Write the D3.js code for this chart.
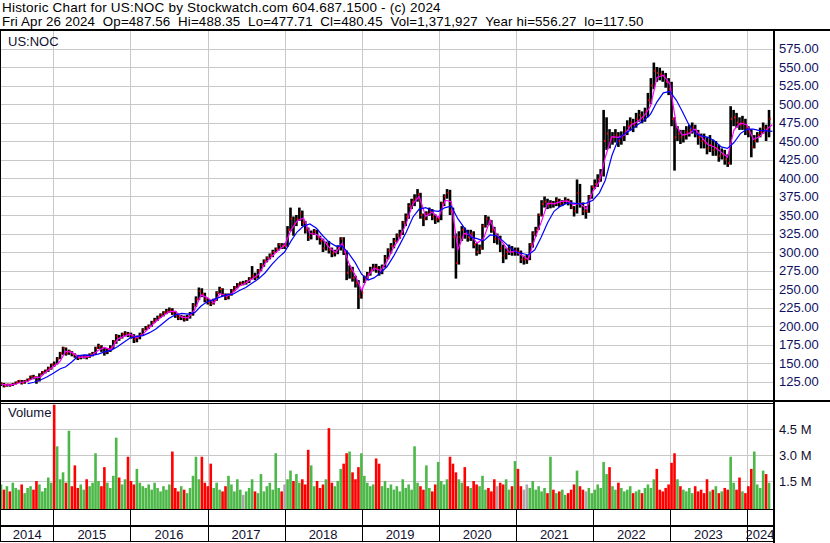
<!DOCTYPE html>
<html>
<head>
<meta charset="utf-8">
<script src="https://cdn.jsdelivr.net/npm/d3@7"></script>
<style>
  body { margin: 0; background: #fff; }
  svg { display: block; font-family: Arial, "Liberation Sans", sans-serif; }
</style>
</head>
<body>
<svg id="chart" width="830" height="543"></svg>
<script>
const header1 = "Historic Chart for US:NOC by Stockwatch.com 604.687.1500 - (c) 2024";
const header2 = "Fri Apr 26 2024  Op=487.56  Hi=488.35  Lo=477.71  Cl=480.45  Vol=1,371,927  Year hi=556.27  lo=117.50";
const symbol = "US:NOC";

const priceTicks = [125, 150, 175, 200, 225, 250, 275, 300, 325, 350, 375, 400, 425, 450, 475, 500, 525, 550, 575];
const volTicks = [1.5, 3.0, 4.5];
const years = [2014, 2015, 2016, 2017, 2018, 2019, 2020, 2021, 2022, 2023, 2024];

// one bar every two weeks, starting Mon Apr 28 2014
const firstBar = new Date(2014, 3, 28);

const closes = [
  122,119,121,120,122,124,126,123,126,128,132,131,126,135,138,140,143,148,
  147,156,163,170,163,166,162,160,157,158,159,158,161,163,170,173,170,165,168,171,179,186,184,189,190,189,
  186,182,184,188,195,198,200,205,208,212,215,218,220,222,218,214,211,212,209,212,216,228,236,247,243,236,
  232,230,235,245,250,242,238,242,248,252,256,258,258,260,264,268,266,275,282,288,292,296,300,304,310,308,
  308,330,345,338,345,352,340,330,320,325,328,320,315,305,310,303,298,300,305,318,300,272,275,265,258,240,245,
  265,270,275,280,278,272,280,292,302,308,315,322,325,340,348,362,368,372,378,350,345,352,356,348,344,345,
  366,375,380,355,320,285,320,330,325,320,325,310,300,305,335,345,340,330,318,318,305,295,300,305,300,302,
  300,290,290,290,310,325,330,350,365,368,365,366,365,370,365,368,370,368,360,355,380,365,355,355,375,388,
  392,398,405,450,460,452,455,458,450,455,462,470,475,472,480,485,482,490,505,525,545,542,540,538,530,520,
  480,455,460,455,458,462,465,468,460,455,450,448,440,445,438,440,430,432,425,420,480,482,475,472,475,468,
  462,442,450,458,462,468,465,480
];
const highs = [
  124,123,122,122,123,125,127,127,127,129,133,134,132,136,139,141,145,149,
  152,158,165,172,171,168,166,163,161,160,161,161,163,165,172,176,174,171,170,174,181,189,188,191,193,192,
  191,189,187,191,197,200,202,207,211,214,217,220,223,225,224,220,216,215,214,215,219,231,240,252,251,245,
  238,235,237,247,253,251,244,244,250,254,258,260,261,262,266,281,272,277,285,290,294,298,303,306,312,312,
  312,335,360,348,350,360,356,342,333,329,331,330,322,318,314,315,306,303,309,320,320,302,282,280,268,262,250,
  268,273,280,284,284,281,283,296,305,312,319,325,330,342,352,366,372,378,385,380,352,355,360,358,351,348,
  368,378,385,384,360,325,328,335,333,330,330,328,312,310,338,350,348,343,334,325,322,310,305,310,308,306,
  306,302,295,296,312,328,334,352,370,375,372,370,369,374,372,370,374,372,370,362,398,392,367,362,377,390,
  398,405,412,492,482,466,462,466,462,463,470,478,482,480,488,492,490,495,515,535,556,550,549,545,542,535,
  530,482,470,465,465,470,472,475,472,465,460,460,455,458,452,450,445,440,438,432,497,492,488,482,484,480,
  470,466,458,462,468,475,472,492
];
const lows = [
  119,117,118,118,119,121,123,121,122,125,127,128,122,125,134,136,138,141,
  145,148,155,161,160,161,159,157,154,155,156,155,157,159,161,169,165,160,162,165,169,176,180,183,186,185,
  183,177,178,182,187,194,196,199,204,207,211,213,216,218,215,211,208,208,206,207,210,214,226,235,239,232,
  229,227,229,234,243,240,235,236,241,247,251,254,255,256,258,263,262,264,274,280,286,290,293,299,302,304,
  304,307,328,322,335,342,335,325,315,317,323,316,310,300,302,298,293,294,297,302,296,262,264,260,252,223,237,
  258,262,268,274,272,268,270,279,290,298,305,313,318,323,335,345,358,362,368,345,335,343,349,343,338,340,
  343,362,372,350,305,264,283,315,318,314,315,305,295,297,303,333,336,326,312,310,300,285,290,296,295,295,
  295,285,283,284,289,306,321,330,348,360,358,359,360,362,361,362,365,363,358,348,352,360,350,345,353,372,
  385,388,395,402,438,440,445,448,442,445,450,458,465,462,468,476,474,476,482,500,520,530,532,530,522,512,
  470,410,450,446,448,452,456,460,455,445,440,440,432,435,430,430,422,425,418,415,418,470,468,465,465,458,
  455,428,440,448,455,460,450,455
];
// millions of shares
const volumes = [
  1.3,1.0,1.2,0.9,1.4,1.1,1.0,1.3,0.8,1.1,1.2,1.0,1.5,1.3,0.9,1.1,1.7,1.4,
  5.9,3.5,1.6,2.0,1.4,4.4,1.2,2.4,1.1,1.3,1.0,1.6,1.2,1.4,3.1,1.5,1.2,2.3,1.4,1.1,1.8,4.0,1.7,1.3,1.6,2.9,
  1.5,1.3,2.2,1.4,1.2,1.1,1.3,1.0,1.4,1.1,0.9,1.2,1.0,1.3,3.2,1.1,0.9,1.2,1.0,0.8,1.1,1.8,2.9,1.6,2.9,1.4,
  1.2,2.5,1.1,1.4,1.0,0.9,1.2,1.8,1.3,0.9,1.6,1.0,0.7,0.9,1.1,1.6,0.9,0.8,1.9,0.9,1.2,1.4,1.0,3.1,1.1,0.9,
  1.3,1.6,2.1,1.5,1.9,1.4,1.6,1.3,3.3,2.4,1.2,1.5,1.1,1.3,1.6,4.55,1.4,1.2,1.5,2.2,2.5,3.1,3.2,2.0,1.6,2.3,3.1,
  1.8,1.4,1.2,1.3,2.8,2.5,1.2,1.5,1.1,1.3,1.0,1.2,0.9,1.6,1.1,1.3,1.0,3.5,1.4,1.2,1.0,2.4,1.1,0.9,1.3,2.6,
  1.5,1.3,1.6,2.9,2.5,2.0,1.6,1.4,2.3,1.2,1.1,1.5,1.3,1.2,1.8,1.0,1.1,0.9,1.6,1.2,1.4,1.3,1.6,1.0,1.2,2.65,
  2.2,1.2,1.0,1.3,1.1,1.5,1.0,1.2,0.9,1.1,0.8,2.9,1.0,0.8,0.9,1.0,0.7,0.8,1.0,1.3,2.1,1.2,1.0,0.9,1.1,0.8,
  1.0,1.3,1.1,2.6,1.9,2.3,1.2,1.0,1.4,1.1,0.9,1.0,1.2,0.8,0.9,1.0,0.8,1.1,1.3,1.1,1.6,2.2,1.0,0.9,1.1,1.3,
  2.55,3.1,1.6,1.2,1.0,0.9,1.1,0.8,1.2,0.9,1.0,0.8,1.6,0.9,1.0,1.2,0.8,0.9,1.1,1.0,2.9,1.4,1.0,1.7,0.9,0.8,
  1.2,2.2,3.2,1.3,1.1,2.1,1.9,1.4
];

// short average (magenta), first of each month from May 2014
const maShortStart = new Date(2014, 4, 1);
const maShort = [
  121,120,121,124,125,130,131,139,
  145,152,166,164,158,158,160,167,171,168,182,186,
  189,184,189,198,206,213,219,220,212,211,222,242,
  238,231,244,240,245,254,258,264,270,285,294,302,
  309,330,342,346,325,324,317,306,299,312,285,269,
  248,268,278,275,287,306,319,339,365,375,348,354,
  346,370,368,303,325,323,312,318,343,324,312,300,
  301,295,290,318,340,366,365,368,369,364,366,358,
  382,395,428,456,455,458,472,476,484,497,536,539,
  527,470,458,460,466,455,445,442,435,428,465,474,
  472,452,456,465,472
];
// long average (blue), first of each month from Sep 2014
const maLongStart = new Date(2014, 8, 1);
const maLong = [
  122,124,127,131,
  136,142,145,152,160,161,160,162,165,167,172,178,
  184,186,187,191,196,203,210,215,217,216,218,227,
  233,236,239,242,243,248,252,258,264,272,283,292,
  300,315,327,335,338,332,322,313,308,308,298,286,
  270,262,265,272,280,294,310,327,347,358,360,356,
  355,360,362,345,333,320,318,315,323,322,315,307,
  300,298,296,303,320,340,355,362,366,366,365,366,
  370,380,397,430,452,460,465,472,478,486,503,515,
  517,505,490,472,460,457,455,450,442,440,448,460,
  466,466,464,464,463
];

const svg = d3.select("#chart");
const plotL = 1, plotR = 773;

const x = d3.scaleTime()
    .domain([new Date(2014, 3, 28), new Date(2024, 3, 29)])
    .range([1, 772]);
const y = d3.scaleLinear().domain([100, 600]).range([400, 30]);
const yv = d3.scaleLinear().domain([0, 6]).range([507, 403]);
const volBase = 509;

const dates = closes.map((c, i) => d3.timeDay.offset(firstBar, 14 * i));
const yearStarts = years.slice(1).map(yr => new Date(yr, 0, 1));

svg.append("rect").attr("width", 830).attr("height", 543).attr("fill", "#fff");

svg.append("defs").append("clipPath").attr("id", "plotClip")
  .append("rect").attr("x", plotL).attr("y", 31).attr("width", plotR - plotL).attr("height", 369);

// grid
const grid = svg.append("g")
    .attr("stroke", "#c8c8c8")
    .attr("shape-rendering", "crispEdges");
grid.selectAll(".hgrid").data(priceTicks).enter()
  .append("line")
    .attr("x1", plotL).attr("x2", plotR)
    .attr("y1", d => Math.round(y(d)) + 0.5)
    .attr("y2", d => Math.round(y(d)) + 0.5);
grid.selectAll(".vgrid").data(volTicks).enter()
  .append("line")
    .attr("x1", plotL).attr("x2", plotR)
    .attr("y1", d => Math.round(yv(d)) + 0.5)
    .attr("y2", d => Math.round(yv(d)) + 0.5);
grid.selectAll(".ygrid").data(yearStarts).enter()
  .append("line")
    .attr("x1", d => Math.round(x(d)) + 0.5).attr("x2", d => Math.round(x(d)) + 0.5)
    .attr("y1", 31).attr("y2", 400);
grid.selectAll(".ygrid2").data(yearStarts).enter()
  .append("line")
    .attr("x1", d => Math.round(x(d)) + 0.5).attr("x2", d => Math.round(x(d)) + 0.5)
    .attr("y1", 404).attr("y2", volBase);

// price bars
const price = svg.append("g").attr("clip-path", "url(#plotClip)");
price.selectAll(".bar").data(closes).enter()
  .append("rect")
    .attr("x", (d, i) => x(dates[i]) - 1.3)
    .attr("width", 2.6)
    .attr("y", (d, i) => y(highs[i]))
    .attr("height", (d, i) => y(lows[i]) - y(highs[i]))
    .attr("fill", "#000");
price.selectAll(".tick").data(closes).enter()
  .append("rect")
    .attr("x", (d, i) => x(dates[i]) + 0.4)
    .attr("width", 1.4)
    .attr("y", d => y(d) - 1)
    .attr("height", 2)
    .attr("fill", "#ff0000");

// moving averages
const longLine = d3.line()
    .x((d, i) => x(d3.timeMonth.offset(maLongStart, i)))
    .y(d => y(d));
const shortLine = d3.line()
    .x((d, i) => x(d3.timeMonth.offset(maShortStart, i)))
    .y(d => y(d));
price.append("path").datum(maShort)
    .attr("d", shortLine)
    .attr("fill", "none").attr("stroke", "#ff00ff").attr("stroke-width", 1.2);
price.append("path").datum(maLong)
    .attr("d", longLine)
    .attr("fill", "none").attr("stroke", "#0000ff").attr("stroke-width", 1.2);

// volume bars, coloured by the change in close
function volColor(i) {
  if (i == 0) return "#4cb848";
  if (closes[i] > closes[i - 1]) return "#4cb848";
  if (closes[i] < closes[i - 1]) return "#ff0000";
  return "#a8a8a8";
}
svg.append("g").selectAll("rect").data(volumes).enter()
  .append("rect")
    .attr("x", (d, i) => x(dates[i]) - 1.3)
    .attr("width", 2.6)
    .attr("y", d => Math.max(yv(d), 404))
    .attr("height", d => volBase - Math.max(yv(d), 404))
    .attr("fill", (d, i) => volColor(i));

// frame lines
const frame = svg.append("g").attr("fill", "#000").attr("shape-rendering", "crispEdges");
frame.append("rect").attr("x", 0).attr("y", 29).attr("width", 830).attr("height", 2);
frame.append("rect").attr("x", 0).attr("y", 29).attr("width", 1).attr("height", 513);
frame.append("rect").attr("x", plotR).attr("y", 29).attr("width", 2).attr("height", 514);
frame.append("rect").attr("x", 0).attr("y", 400).attr("width", 830).attr("height", 2);
frame.append("rect").attr("x", 0).attr("y", 403).attr("width", plotR).attr("height", 1);
frame.append("rect").attr("x", 0).attr("y", volBase).attr("width", plotR).attr("height", 1);
frame.append("rect").attr("x", 0).attr("y", 525).attr("width", plotR).attr("height", 2);
frame.append("rect").attr("x", 0).attr("y", 541).attr("width", plotR).attr("height", 1);
frame.selectAll(".ysep").data(yearStarts).enter()
  .append("rect")
    .attr("x", d => Math.round(x(d)))
    .attr("y", volBase).attr("width", 1).attr("height", 32);

// axes
const priceAxis = d3.axisRight(y)
    .tickValues(priceTicks)
    .tickFormat(d3.format(".2f"))
    .tickSize(0).tickPadding(5);
svg.append("g")
    .attr("transform", "translate(" + (plotR + 1) + ",0)")
    .call(priceAxis)
    .call(g => g.select(".domain").remove())
    .selectAll("text")
      .attr("font-size", 13)
      .attr("font-family", "Arial, 'Liberation Sans', sans-serif")
      .attr("fill", "#101060");

const volAxis = d3.axisRight(yv)
    .tickValues(volTicks)
    .tickFormat(d => d.toFixed(1) + " M")
    .tickSize(0).tickPadding(5);
svg.append("g")
    .attr("transform", "translate(" + (plotR + 1) + ",0)")
    .call(volAxis)
    .call(g => g.select(".domain").remove())
    .selectAll("text")
      .attr("font-size", 13)
      .attr("font-family", "Arial, 'Liberation Sans', sans-serif")
      .attr("fill", "#101030");

// year labels, centred in each year's span
svg.append("g").selectAll("text").data(years).enter()
  .append("text")
    .attr("x", d => {
      const a = Math.max(x(new Date(d, 0, 1)), plotL);
      const b = Math.min(x(new Date(d + 1, 0, 1)), plotR);
      return (a + b) / 2;
    })
    .attr("y", 539)
    .attr("text-anchor", "middle")
    .attr("font-size", 13)
    .attr("fill", "#101030")
    .text(d => d);

// titles
svg.append("text").attr("x", 2).attr("y", 12).attr("font-size", 13.5)
    .attr("letter-spacing", 0.2)
    .attr("fill", "#000").style("white-space", "pre").text(header1);
svg.append("text").attr("x", 2).attr("y", 26).attr("font-size", 13.3)
    .attr("letter-spacing", 0.15)
    .attr("fill", "#000").style("white-space", "pre").text(header2);
svg.append("text").attr("x", 8).attr("y", 46).attr("font-size", 13)
    .attr("fill", "#101030").text(symbol);
svg.append("text").attr("x", 8).attr("y", 417).attr("font-size", 13)
    .attr("fill", "#101030").text("Volume");
</script>
</body>
</html>
